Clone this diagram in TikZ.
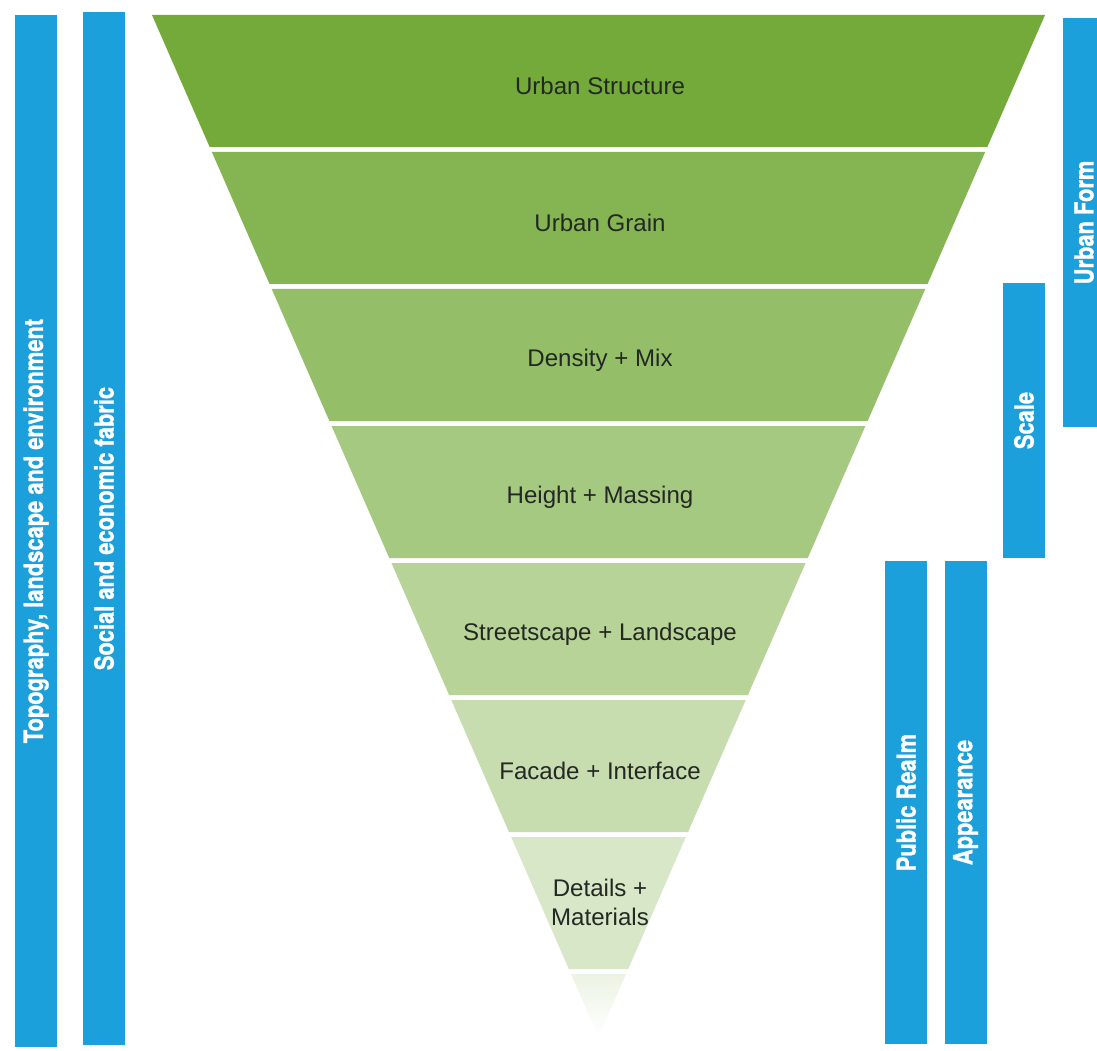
\documentclass[tikz,border=0pt]{standalone}
\usepackage{fontspec}
\setmainfont{Liberation Sans}
\newfontfamily\barfont[FakeStretch=0.83,FakeBold=1]{texgyreheros-bold.otf}
\definecolor{barblue}{RGB}{27,160,220}
\definecolor{leafgreen}{RGB}{116,170,58}
\definecolor{labelgray}{RGB}{35,40,35}

\begin{document}
\begin{tikzpicture}[x=0.02cm,y=-0.02cm,
	bar/.style={fill=barblue,rotate=90,minimum height=0.84cm,inner sep=0pt,text=white,font=\barfont\fontsize{15}{18}\selectfont},
	layer/.style={text=labelgray,align=center,font=\fontsize{13.7}{16.4}\selectfont}]

	\useasboundingbox (0,0) rectangle (1097,1050);

	% funnel bands, top to bottom
	\foreach \name/\txt/\dy [count=\k] in {struct/Urban Structure/71, grain/Urban Grain/71, density/Density + Mix/71, height/Height + Massing/71, street/Streetscape + Landscape/71, facade/Facade + Interface/71, details/{Details +\\Materials}/65}{
		\pgfmathsetmacro\ya{15+137*(\k-1)}
		\pgfmathsetmacro\yb{\ya+132}
		\pgfmathtruncatemacro\pct{100-12*(\k-1)}
		\fill[leafgreen!\pct!white] ({152+0.4369*(\ya-15)},\ya) -- ({1045-0.4369*(\ya-15)},\ya) -- ({1045-0.4369*(\yb-15)},\yb) -- ({152+0.4369*(\yb-15)},\yb) -- cycle;
		\node[layer] (\name) at (600,{\ya+\dy}) {\txt};
	}
	\shade[top color=leafgreen!14!white, bottom color=white] ({152+0.4369*959},974) -- ({1045-0.4369*959},974) -- (598.5,1037) -- cycle;

	\node[bar, minimum width=20.64cm] (topo) at (36,531) {Topography, landscape and environment};
	\node[bar, minimum width=20.66cm] (social) at (104,528.5) {Social and economic fabric};
	\node[bar, minimum width=8.18cm] (form) at (1084,222.5) {Urban Form};
	\node[bar, minimum width=5.5cm] (scale) at (1024,420.5) {Scale};
	\node[bar, minimum width=9.66cm] (realm) at (906,802.5) {Public Realm};
	\node[bar, minimum width=9.66cm] (appear) at (965.5,802.5) {Appearance};

\end{tikzpicture}
\end{document}
